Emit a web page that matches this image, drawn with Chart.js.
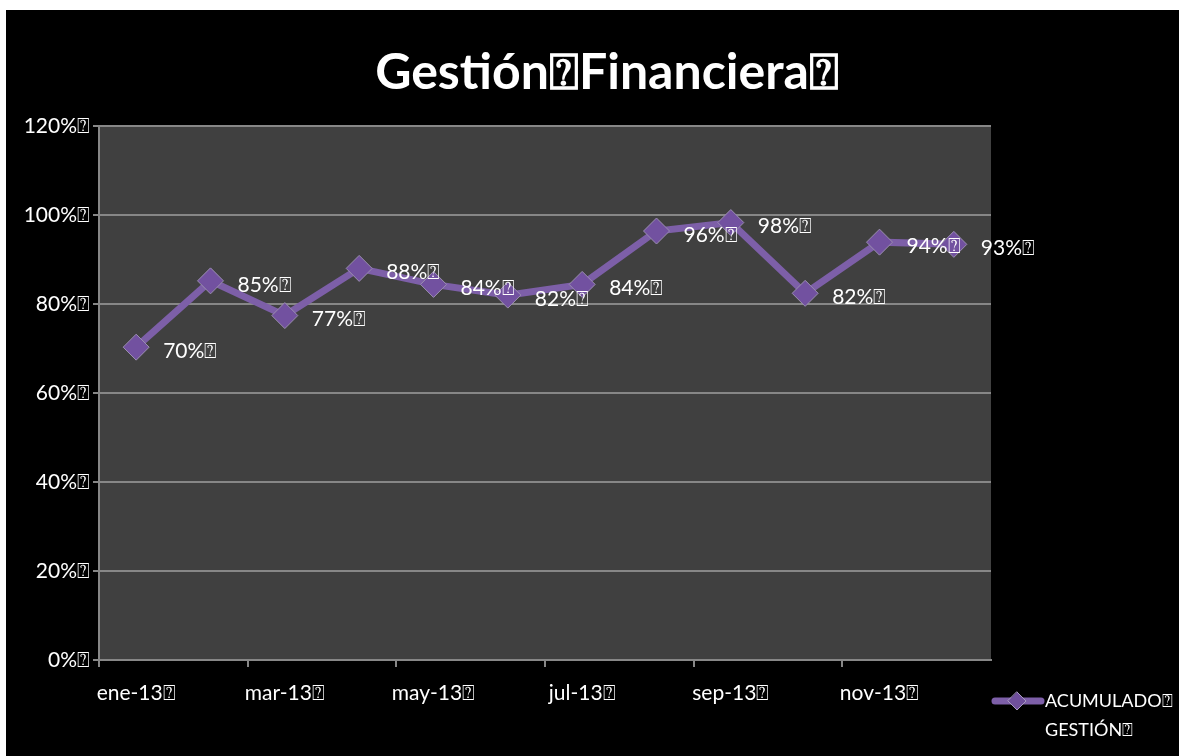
<!DOCTYPE html>
<html>
<head>
<meta charset="utf-8">
<script src="https://cdn.jsdelivr.net/npm/chart.js@4.4.1/dist/chart.umd.min.js"></script>
<style>
  html, body { margin: 0; padding: 0; background: #fff; }
  #wrap { position: absolute; left: 6px; top: 10px; width: 1173px; height: 746px; background: #000; }
</style>
</head>
<body>
<div id="wrap"><canvas id="chart"></canvas></div>
<script>
// datos
var meses = ['ene-13', 'feb-13', 'mar-13', 'abr-13', 'may-13', 'jun-13',
             'jul-13', 'ago-13', 'sep-13', 'oct-13', 'nov-13', 'dic-13'];
var acumulado = [0.703, 0.852, 0.774, 0.880, 0.844, 0.820,
                 0.844, 0.964, 0.983, 0.824, 0.939, 0.934];
var yTicks = [0, 0.2, 0.4, 0.6, 0.8, 1.0, 1.2];
var titulo = 'Gestión\u2370Financiera\u2370';
var serieNombre = ['ACUMULADO\u2370', 'GESTIÓN\u2370'];

var FONT = 'Lato, "Open Sans", sans-serif';
var GRIS = '#878787';
var MORADO = '#7d5fa8';

var fondo = {
  id: 'fondo',
  beforeDraw: function(chart) {
    var a = chart.chartArea, c = chart.ctx;
    c.save();
    c.fillStyle = '#404040';
    c.fillRect(a.left, a.top, a.right - a.left, a.bottom - a.top);
    c.restore();
  }
};

var extras = {
  id: 'extras',
  afterDatasetsDraw: function(chart) {
    var c = chart.ctx;
    var meta = chart.getDatasetMeta(0);
    c.save();
    // etiquetas de datos
    c.font = '21px ' + FONT;
    c.fillStyle = '#fff';
    c.textBaseline = 'middle';
    c.textAlign = 'left';
    meta.data.forEach(function(p, i) {
      c.fillText(Math.round(acumulado[i] * 100) + '%\u2370', p.x + 27, p.y + 4);
    });
    // titulo
    c.font = 'bold 50px ' + FONT;
    c.textAlign = 'center';
    c.textBaseline = 'alphabetic';
    c.fillText(titulo, 601, 79);
    // leyenda
    var ly = 691;
    c.strokeStyle = MORADO;
    c.lineWidth = 7;
    c.lineCap = 'round';
    c.beginPath();
    c.moveTo(989, ly);
    c.lineTo(1035, ly);
    c.stroke();
    c.fillStyle = '#6f4f9c';
    c.strokeStyle = '#a89cc0';
    c.lineWidth = 1;
    c.beginPath();
    c.moveTo(1011, ly - 9);
    c.lineTo(1020, ly);
    c.lineTo(1011, ly + 9);
    c.lineTo(1002, ly);
    c.closePath();
    c.fill();
    c.stroke();
    c.fillStyle = '#fff';
    c.font = '18px ' + FONT;
    c.textAlign = 'left';
    c.textBaseline = 'middle';
    c.fillText(serieNombre[0], 1039, ly);
    c.fillText(serieNombre[1], 1039, ly + 29);
    c.restore();
  }
};

new Chart(document.getElementById('chart'), {
  type: 'line',
  data: {
    labels: meses,
    datasets: [{
      label: serieNombre.join(' '),
      data: acumulado,
      borderColor: MORADO,
      borderWidth: 7,
      tension: 0,
      pointStyle: 'rectRot',
      pointRadius: 13,
      pointHoverRadius: 13,
      pointBackgroundColor: '#7251a0',
      pointBorderColor: '#9b8fb0',
      pointBorderWidth: 1
    }]
  },
  options: {
    responsive: true,
    maintainAspectRatio: false,
    animation: false,
    events: [],
    layout: {
      padding: { left: 0, top: 116, right: 188, bottom: 0 }
    },
    plugins: {
      legend: { display: false },
      title: { display: false },
      tooltip: { enabled: false }
    },
    scales: {
      x: {
        offset: true,
        afterFit: function(s) { s.height = 96; },
        grid: {
          offset: true,
          drawOnChartArea: false,
          tickLength: 7,
          lineWidth: 2,
          tickColor: function(ctx) { return ctx.index % 2 === 0 ? GRIS : 'transparent'; }
        },
        border: { color: GRIS, width: 2 },
        ticks: {
          autoSkip: false,
          maxRotation: 0,
          minRotation: 0,
          padding: 14,
          color: '#fff',
          font: { family: FONT, size: 21 },
          callback: function(v, i) { return i % 2 === 0 ? meses[i] + '\u2370' : ''; }
        }
      },
      y: {
        min: 0,
        max: 1.2,
        afterFit: function(s) { s.width = 93; },
        afterBuildTicks: function(s) { s.ticks = yTicks.map(function(v) { return { value: v }; }); },
        grid: { color: GRIS, lineWidth: 2, tickLength: 6 },
        border: { color: GRIS, width: 2 },
        ticks: {
          padding: 3,
          color: '#fff',
          font: { family: FONT, size: 21 },
          callback: function(v) { return Math.round(v * 100) + '%\u2370'; }
        }
      }
    }
  },
  plugins: [fondo, extras]
});
</script>
</body>
</html>
